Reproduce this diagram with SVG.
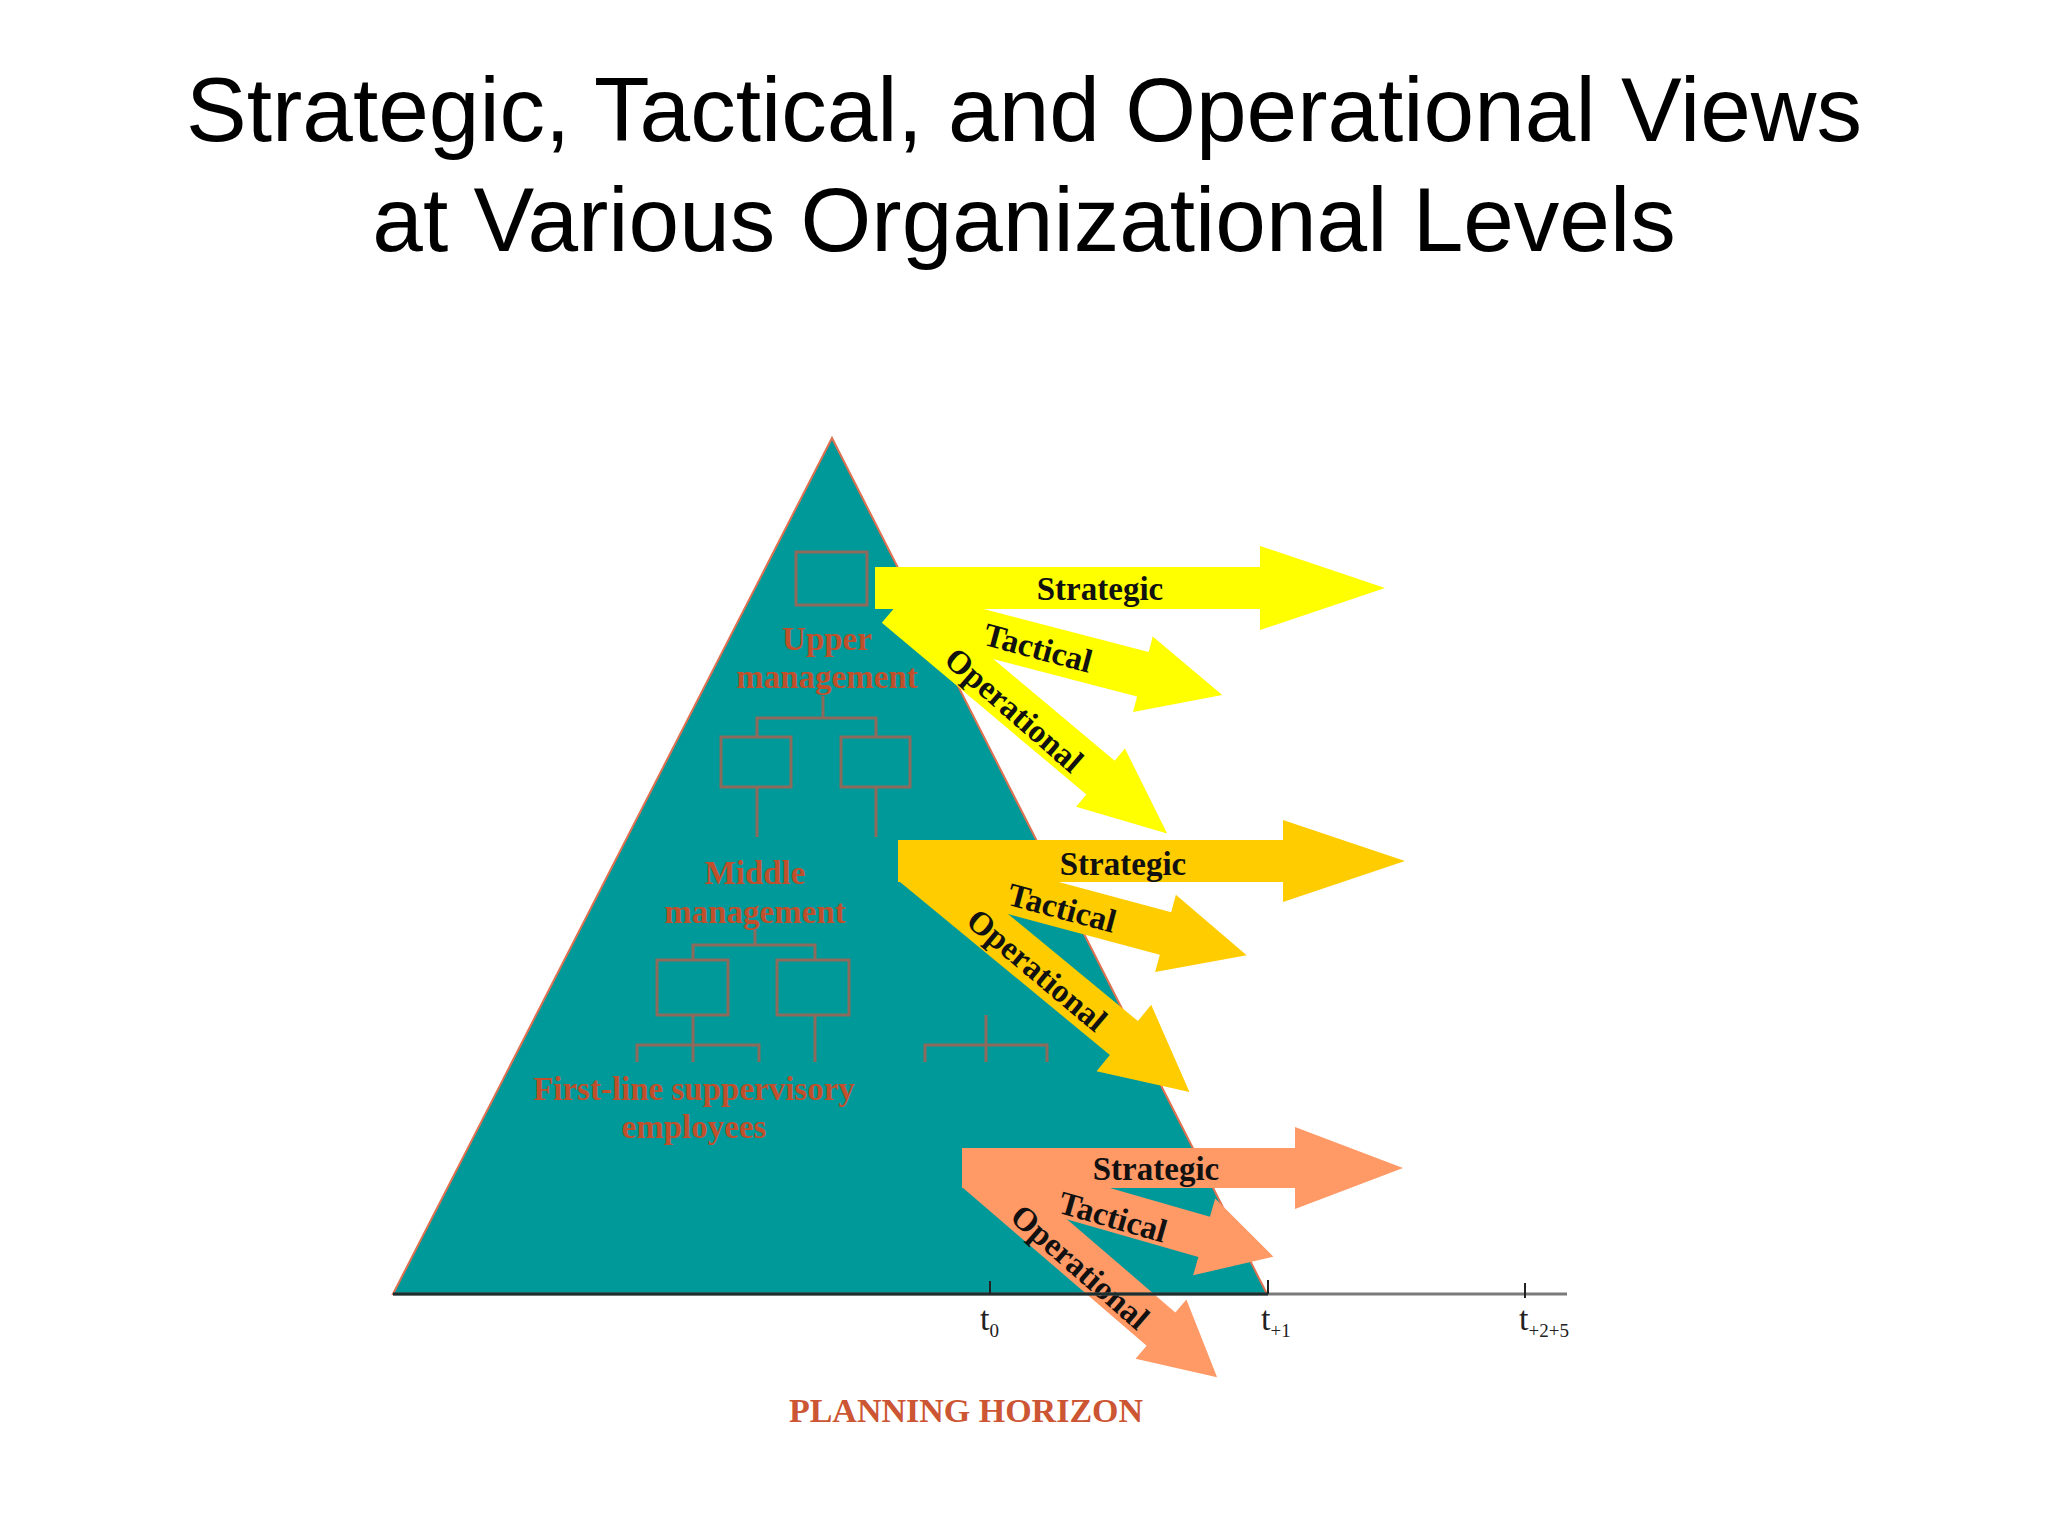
<svg xmlns="http://www.w3.org/2000/svg" width="2048" height="1536" viewBox="0 0 2048 1536">
<style>
.title{font-family:"Liberation Sans",Arial,sans-serif;font-size:91px;fill:#000;text-anchor:middle}
.org{fill:none;stroke:#8E6A5C;stroke-width:3}
.orgt{font-family:"Liberation Serif","Times New Roman",serif;font-weight:bold;font-size:33px;fill:#C0502C;text-anchor:middle}
.lbl{font-family:"Liberation Serif","Times New Roman",serif;font-weight:bold;font-size:33px;fill:#111;text-anchor:middle}
.yel{fill:#FFFF00}
.gold{fill:#FFCC00}
.sal{fill:#FF9966}
.tk{font-family:"Liberation Serif","Times New Roman",serif;font-size:34px;fill:#222}
.tick{stroke:#222;stroke-width:2}
</style>
<rect width="2048" height="1536" fill="#fff"/>
<text class="title" x="1024" y="141">Strategic, Tactical, and Operational Views</text>
<text class="title" x="1024" y="251">at Various Organizational Levels</text>

<g id="pyramid">
<polygon points="832,438 393,1294 1267,1294" fill="#009999" stroke="#E07050" stroke-width="2"/>
</g>

<g id="org-upper">
<rect class="org" x="796" y="552" width="71" height="53"/>
<text class="orgt" x="827" y="650">Upper</text>
<text class="orgt" x="827" y="688">management</text>
</g>
<g id="org-middle">
<rect class="org" x="721" y="737" width="70" height="50"/>
<rect class="org" x="841" y="737" width="69" height="50"/>
<text class="orgt" x="755" y="884">Middle</text>
<text class="orgt" x="755" y="923">management</text>
</g>
<g id="org-first">
<rect class="org" x="657" y="960" width="71" height="55"/>
<rect class="org" x="777" y="960" width="72" height="55"/>
<text class="orgt" x="694" y="1100">First-line suppervisory</text>
<text class="orgt" x="694" y="1138">employees</text>
</g>

<g id="connectors">
<path class="org" d="M823,696V718M757,737V718H876V737M757,787V837M876,787V837"/>
<path class="org" d="M755,930V945M693,960V945H815V960"/>
<path class="org" d="M693,1015V1062M637,1062V1045H759V1062M815,1015V1062"/>
<path class="org" d="M986,1015V1062M925,1062V1045H1047V1062"/>
</g>

<g id="upper-arrows">
<polygon class="yel" transform="translate(896,606) rotate(40)" points="0,-22 267,-22 267,-38 354,0 267,38 267,22 0,22"/>
<polygon class="yel" transform="translate(900,611) rotate(14.6)" points="0,-23 251,-23 251,-39 333,0 251,39 251,23 0,23"/>
<polygon class="yel" transform="translate(875,588)" points="0,-21 385,-21 385,-42 510,0 385,42 385,21 0,21"/>
<text class="lbl" x="1100" y="600">Strategic</text>
<text class="lbl" transform="translate(1038,648) rotate(15)" x="0" y="11">Tactical</text>
<text class="lbl" transform="translate(1014,710) rotate(41)" x="0" y="11">Operational</text>
</g>

<g id="middle-arrows">
<polygon class="gold" transform="translate(914,865) rotate(39.5)" points="0,-22 272,-22 272,-43 357,0 272,43 272,22 0,22"/>
<polygon class="gold" transform="translate(925,869) rotate(15)" points="0,-22 249,-22 249,-40 333,0 249,40 249,22 0,22"/>
<polygon class="gold" transform="translate(898,861)" points="0,-21 385,-21 385,-41 507,0 385,41 385,21 0,21"/>
<text class="lbl" x="1123" y="875">Strategic</text>
<text class="lbl" transform="translate(1062,908) rotate(15)" x="0" y="11">Tactical</text>
<text class="lbl" transform="translate(1037,970) rotate(40)" x="0" y="11">Operational</text>
</g>

<g id="first-arrows">
<polygon class="sal" transform="translate(976,1170) rotate(40.7)" points="0,-22 244,-22 244,-39 318,0 244,39 244,22 0,22"/>
<polygon class="sal" transform="translate(985,1174) rotate(16)" points="0,-21 228,-21 228,-40 300,0 228,40 228,21 0,21"/>
<polygon class="sal" transform="translate(962,1168)" points="0,-20 333,-20 333,-41 441,0 333,41 333,20 0,20"/>
<text class="lbl" x="1156" y="1180">Strategic</text>
<text class="lbl" transform="translate(1113,1217) rotate(16)" x="0" y="11">Tactical</text>
<text class="lbl" transform="translate(1080,1267) rotate(41)" x="0" y="11">Operational</text>
</g>

<g id="axis">
<line x1="393" y1="1294" x2="1567" y2="1294" stroke="#7a7a7a" stroke-width="3"/>
<line x1="393" y1="1294" x2="1268" y2="1294" stroke="#1e2e2e" stroke-width="3"/>
<line class="tick" x1="990" y1="1281" x2="990" y2="1294"/>
<line class="tick" x1="1268" y1="1280" x2="1268" y2="1294"/>
<line class="tick" x1="1525" y1="1283" x2="1525" y2="1298"/>
<text class="tk" x="980" y="1330">t<tspan font-size="19" dy="7">0</tspan></text>
<text class="tk" x="1261" y="1330">t<tspan font-size="19" dy="7">+1</tspan></text>
<text class="tk" x="1519" y="1330">t<tspan font-size="19" dy="7">+2+5</tspan></text>
<text x="966" y="1422" font-family="Liberation Serif,Times New Roman,serif" font-weight="bold" font-size="34" fill="#CC5533" text-anchor="middle">PLANNING HORIZON</text>
</g>
</svg>
